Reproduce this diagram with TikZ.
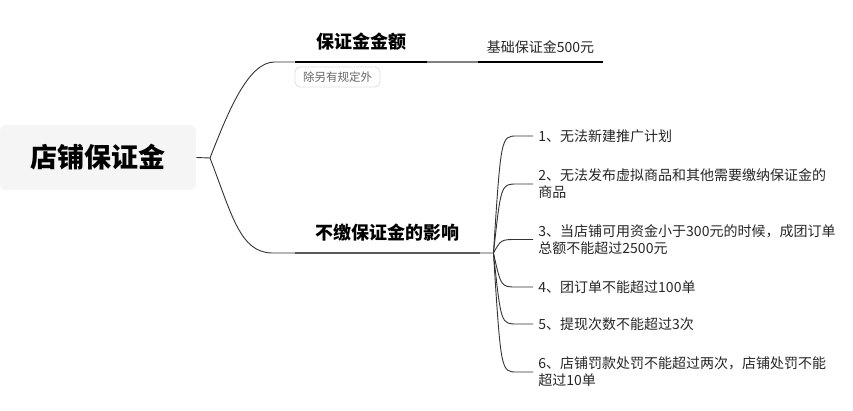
\documentclass[tikz,border=0pt]{standalone}
\usepackage{fontspec}
\setmainfont{Noto Sans CJK SC}
\usetikzlibrary{positioning}
\definecolor{linegray}{HTML}{333333}
\tikzset{rootbox/.style={fill=black!4,rounded corners=6pt,
                         minimum width=196pt,minimum height=65pt,
                         font=\bfseries\fontsize{27}{30}\selectfont}}
\tikzset{topic/.style={anchor=south,inner ysep=11pt,
                       font=\bfseries\fontsize{18}{21}\selectfont}}

\begin{document}
\begin{tikzpicture}[x=1pt,y=-1pt,draw=linegray,line width=0.9pt]
    \tikzstyle{leaf}=[anchor=west,align=left,inner xsep=5pt,text=black!85,
                      font=\fontsize{14}{17}\selectfont]
    \tikzstyle{note}=[draw=black!12,rounded corners=5pt,text=black!60,
                      minimum width=85pt,minimum height=20pt,inner sep=2pt,
                      font=\fontsize{11.5}{13}\selectfont]
    \useasboundingbox (0,0) rectangle (853,410);

    % Draw the root node
    \node[rootbox] (root) at (98,157.5) {店铺保证金};
    \coordinate (fork) at (210,158);
    \draw (root.east) -- (fork);

    % Draw the first branch and its leaf
    \node[topic,minimum width=132pt] (amt) at (361,62) {保证金金额};
    \node[topic,minimum width=125pt,inner ysep=8pt,text=black!85,
          font=\fontsize{14}{17}\selectfont] (base) at (540.5,62) {基础保证金500元};
    \node[note] (rule) at (337.5,77) {除另有规定外};
    \draw (fork) .. controls (228,112) and (248,62) .. ([xshift=-20pt]amt.south west)
        -- (amt.south west);
    \draw[black!50,line width=1.5pt] (amt.south east) -- (base.south west);
    \draw[black,line width=2pt] (amt.south west) -- (amt.south east);
    \draw[black,line width=2pt] (base.south west) -- (base.south east);

    % Draw the second branch
    \node[topic,minimum width=185pt] (imp) at (387.5,253) {不缴保证金的影响};
    \draw (fork) .. controls (232,215) and (240,253) .. ([xshift=-22pt]imp.south west)
        -- ([xshift=13pt]imp.south east) coordinate (sub);
    \draw[black!65,line width=2pt] (imp.south west) -- (imp.south east);

    % Draw the leaves of the second branch and connect them
    \foreach \name / \y / \txt in {1/136/{1、无法新建推广计划},
            2/184/{2、无法发布虚拟商品和其他需要缴纳保证金的\\商品},
            3/239.5/{3、当店铺可用资金小于300元的时候，成团订单\\总额不能超过2500元},
            4/287/{4、团订单不能超过100单},
            5/324/{5、提现次数不能超过3次},
            6/372/{6、店铺罚款处罚不能超过两次，店铺处罚不能\\超过10单}}
    {
        \node[leaf] (L-\name) at (533,\y) {\txt};
        \draw (sub) .. controls (501,\y) .. ([xshift=-16pt]L-\name.west)
            -- (L-\name.west);
    }
\end{tikzpicture}
\end{document}
